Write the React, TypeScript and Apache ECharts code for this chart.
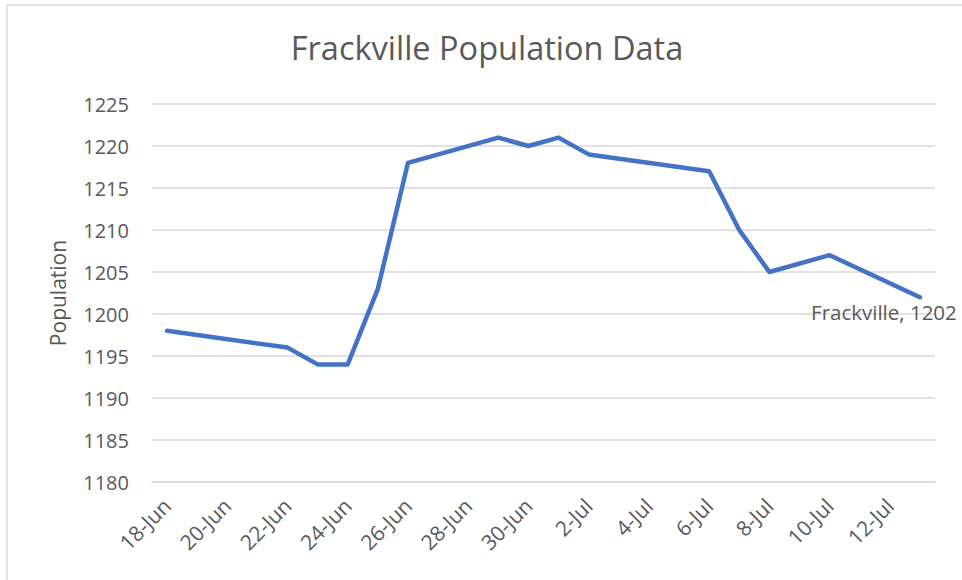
import React, { useEffect, useRef } from "react";
import * as echarts from "echarts";

const categories = [
  "18-Jun", "19-Jun", "20-Jun", "21-Jun", "22-Jun", "23-Jun", "24-Jun", "25-Jun",
  "26-Jun", "27-Jun", "28-Jun", "29-Jun", "30-Jun", "1-Jul", "2-Jul", "3-Jul",
  "4-Jul", "5-Jul", "6-Jul", "7-Jul", "8-Jul", "9-Jul", "10-Jul", "11-Jul",
  "12-Jul", "13-Jul",
];

const population: (number | null)[] = [
  1198, null, null, null, 1196, 1194, 1194, 1203,
  1218, null, null, 1221, 1220, 1221, 1219, null,
  null, null, 1217, 1210, 1205, null, 1207, null,
  null, 1202,
];

const seriesName = "Frackville";
const titleText = "Frackville Population Data";
const yAxisName = "Population";

const FONT = "'Open Sans', 'Noto Sans', sans-serif";
const GREY = "#595959";

export default function App() {
  const ref = useRef<HTMLDivElement>(null);

  useEffect(() => {
    if (!ref.current) return;
    const chart = echarts.init(ref.current, undefined, { renderer: "svg" });
    const lastIdx = population.length - 1;
    const data = population.map((v, i) =>
      i === lastIdx
        ? {
            value: v,
            label: {
              show: true,
              position: "bottom",
              distance: 4,
              offset: [-36, 0],
              formatter: `${seriesName}, ${v}`,
              color: GREY,
              fontFamily: FONT,
              fontSize: 20.5,
            },
          }
        : v
    );
    chart.setOption({
      animation: false,
      backgroundColor: "#ffffff",
      graphic: [
        {
          type: "rect",
          shape: { x: 7, y: 5, width: 1000, height: 1000 },
          style: { fill: "none", stroke: "#d9d9d9", lineWidth: 1.5 },
          silent: true,
        },
      ],
      title: {
        text: titleText,
        left: 482,
        top: 26,
        textAlign: "center",
        textStyle: {
          fontFamily: FONT,
          fontSize: 32.5,
          fontWeight: "normal",
          color: GREY,
        },
      },
      grid: { left: 152, right: 27, top: 104, bottom: 98, containLabel: false },
      xAxis: {
        type: "category",
        data: categories,
        boundaryGap: true,
        axisLine: { show: true, lineStyle: { color: "#d9d9d9", width: 1.5 } },
        axisTick: { show: false },
        axisLabel: {
          interval: 1,
          rotate: 45,
          margin: 20,
          color: GREY,
          fontFamily: FONT,
          fontSize: 21,
        },
        splitLine: { show: false },
      },
      yAxis: {
        type: "value",
        min: 1180,
        max: 1225,
        interval: 5,
        name: yAxisName,
        nameLocation: "middle",
        nameRotate: 90,
        nameGap: 84,
        nameTextStyle: { color: GREY, fontFamily: FONT, fontSize: 21 },
        axisLine: { show: false },
        axisTick: { show: false },
        axisLabel: {
          margin: 23,
          color: GREY,
          fontFamily: FONT,
          fontSize: 20,
          formatter: (v: number) => String(v),
        },
        splitLine: { lineStyle: { color: "#d9d9d9", width: 1.5 } },
      },
      series: [
        {
          name: seriesName,
          type: "line",
          data,
          connectNulls: true,
          showSymbol: true,
          symbol: "circle",
          symbolSize: 0,
          lineStyle: { color: "#4472C4", width: 4.5, cap: "round", join: "round" },
          itemStyle: { color: "#4472C4" },
        },
      ],
    });
    return () => chart.dispose();
  }, []);

  return (
    <div
      ref={ref}
      style={{ position: "fixed", left: 0, top: 0, width: 962, height: 580 }}
    />
  );
}
